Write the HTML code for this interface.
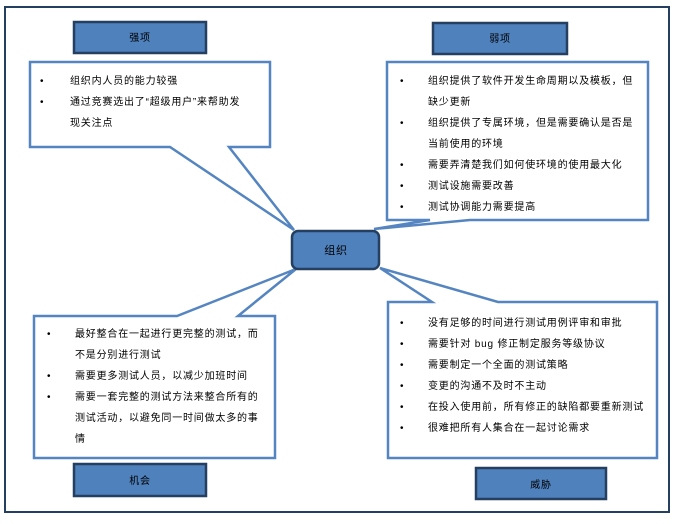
<!DOCTYPE html>
<html><head><meta charset="utf-8"><style>
body{margin:0;background:#fff}
svg text{font-family:"Liberation Sans","Noto Sans CJK SC",sans-serif;font-size:10px;fill:#000;letter-spacing:0.8px}
</style></head><body>
<svg width="679" height="519" xmlns="http://www.w3.org/2000/svg">
<rect x="5" y="7" width="664" height="505" fill="#fff" stroke="#243f60" stroke-width="2"/>
<g fill="#fff" stroke="#5585c0" stroke-width="2.5" stroke-linejoin="miter">
<polygon points="30,62 270,62 270,147 229,147 294,230 170,147 30,147"/>
<polygon points="387,62 648,62 648,220 470,220 374,229 430,220 387,220"/>
<polygon points="34,316 177,316 296,269 238,316 275,316 275,458 34,458"/>
<polygon points="388,302 432,302 380,268 498,302 657,302 657,458 388,458"/>
</g>
<g fill="#4f81bd" stroke="#243f60" stroke-width="2.5">
<rect x="74" y="22" width="132" height="31"/>
<rect x="433" y="23" width="134" height="31"/>
<rect x="74" y="464" width="132" height="32"/>
<rect x="476" y="468" width="130" height="31"/>
<rect x="292" y="231" width="87" height="38" rx="6"/>
</g>
<text x="140" y="41" text-anchor="middle">强项</text>
<text x="500" y="42" text-anchor="middle">弱项</text>
<text x="140" y="484" text-anchor="middle">机会</text>
<text x="541" y="488" text-anchor="middle">威胁</text>
<text x="336" y="254" text-anchor="middle" style="font-size:11px">组织</text>
<g>
<text x="40" y="84">•</text><text x="70" y="84">组织内人员的能力较强</text>
<text x="40" y="105">•</text><text x="70" y="105">通过竞赛选出了“超级用户”来帮助发</text>
<text x="70" y="126">现关注点</text>
</g>
<g>
<text x="400" y="84">•</text><text x="428" y="84">组织提供了软件开发生命周期以及模板，但</text>
<text x="428" y="105">缺少更新</text>
<text x="400" y="126">•</text><text x="428" y="126">组织提供了专属环境，但是需要确认是否是</text>
<text x="428" y="147">当前使用的环境</text>
<text x="400" y="168">•</text><text x="428" y="168">需要弄清楚我们如何使环境的使用最大化</text>
<text x="400" y="189">•</text><text x="428" y="189">测试设施需要改善</text>
<text x="400" y="210">•</text><text x="428" y="210">测试协调能力需要提高</text>
</g>
<g>
<text x="47" y="337">•</text><text x="75" y="337">最好整合在一起进行更完整的测试，而</text>
<text x="75" y="358">不是分别进行测试</text>
<text x="47" y="379">•</text><text x="75" y="379">需要更多测试人员，以减少加班时间</text>
<text x="47" y="400">•</text><text x="75" y="400">需要一套完整的测试方法来整合所有的</text>
<text x="75" y="421">测试活动，以避免同一时间做太多的事</text>
<text x="75" y="442">情</text>
</g>
<g>
<text x="400" y="326">•</text><text x="428" y="326">没有足够的时间进行测试用例评审和审批</text>
<text x="400" y="347">•</text><text x="428" y="347">需要针对 bug 修正制定服务等级协议</text>
<text x="400" y="368">•</text><text x="428" y="368">需要制定一个全面的测试策略</text>
<text x="400" y="389">•</text><text x="428" y="389">变更的沟通不及时不主动</text>
<text x="400" y="410">•</text><text x="428" y="410">在投入使用前，所有修正的缺陷都要重新测试</text>
<text x="400" y="431">•</text><text x="428" y="431">很难把所有人集合在一起讨论需求</text>
</g>
</svg>
</body></html>
